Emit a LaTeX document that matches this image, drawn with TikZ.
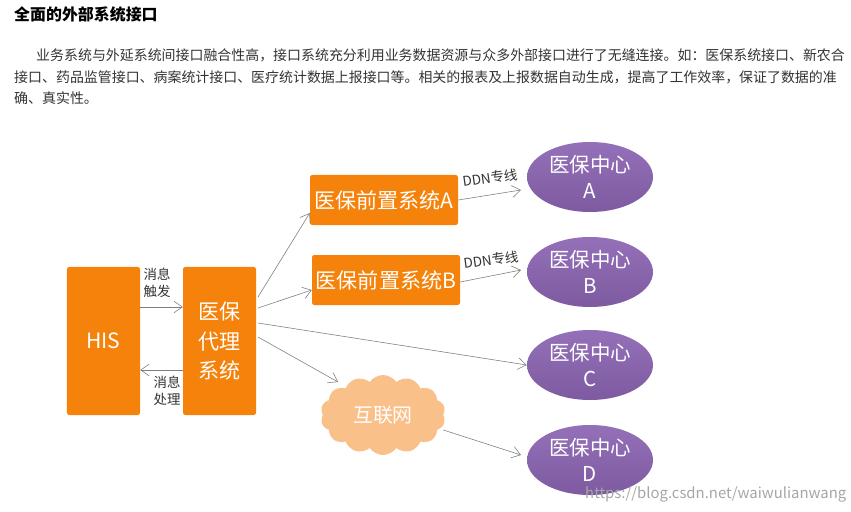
\documentclass[tikz,border=0pt]{standalone}
\usepackage{fontspec}
\setmainfont{Noto Sans CJK SC}
\usetikzlibrary{arrows.meta,shapes.symbols,shapes.geometric}
\definecolor{org}{HTML}{F5820A}
\definecolor{pur}{HTML}{7E5BA0}
\definecolor{purl}{HTML}{9370B8}
\definecolor{cloudc}{HTML}{F9C08A}
\definecolor{arr}{HTML}{7F7F7F}
\definecolor{txt}{HTML}{333333}
\tikzset{
  obox/.style={fill=org,rounded corners=2pt,text=white,font=\fontsize{18}{25}\selectfont,inner sep=0pt,align=center},
  cen/.style={ellipse,top color=purl,bottom color=pur,minimum width=3.78cm,minimum height=2.1cm,text=white,font=\fontsize{17.5}{22}\selectfont,align=center,inner sep=0pt},
  con/.style={draw=arr,line width=0.5pt,-{Straight Barb[length=2.5mm,width=3.5mm]}},
  small/.style={font=\fontsize{11.5}{14}\selectfont,text=txt,align=left,inner sep=0pt},
  para/.style={anchor=west,font=\fontsize{11.9}{14}\selectfont,text=txt,inner sep=0pt}
}
\begin{document}
\begin{tikzpicture}[x=0.03cm,y=-0.03cm]
\useasboundingbox (0,0) rectangle (851,512);
\node[anchor=west,font=\bfseries\fontsize{13.6}{16}\selectfont,inner sep=0pt] (title) at (14,14) {全面的外部系统接口};
\node[para] (p1) at (36,55) {业务系统与外延系统间接口融合性高，接口系统充分利用业务数据资源与众多外部接口进行了无缝连接。如：医保系统接口、新农合};
\node[para] (p2) at (14,77) {接口、药品监管接口、病案统计接口、医疗统计数据上报接口等。相关的报表及上报数据自动生成，提高了工作效率，保证了数据的准};
\node[para] (p3) at (14,98) {确、真实性。};

\node[obox,minimum width=2.19cm,minimum height=4.44cm] (his) at (103.5,341) {HIS};
\node[obox,minimum width=2.19cm,minimum height=4.44cm] (proxy) at (219.5,341) {医保\\代理\\系统};
\node[obox,minimum width=4.44cm,minimum height=1.5cm] (fa) at (384,200) {医保前置系统A};
\node[obox,minimum width=4.44cm,minimum height=1.5cm] (fb) at (386,280) {医保前置系统B};
\node[cen] (ca) at (590,177) {医保中心\\A};
\node[cen] (cb) at (590,272) {医保中心\\B};
\node[cen] (cc) at (590,365) {医保中心\\C};
\node[cen] (cd) at (590,460) {医保中心\\D};
\node[cloud,cloud puffs=14,cloud puff arc=110,aspect=1.6,fill=cloudc,minimum width=3.75cm,minimum height=2.4cm,text=white,font=\fontsize{17}{20}\selectfont,inner sep=0pt] (net) at (383,415) {互联网};

\draw[con] (his.east|-0,307) -- (proxy.west|-0,307);
\node[small] (l1) at (157,283) {消息\\触发};
\draw[con] (proxy.west|-0,370) -- (his.east|-0,370);
\node[small] (l2) at (167,391) {消息\\处理};

\coordinate (p1s) at (258,297);
\coordinate (p2s) at (258,308);
\coordinate (p3s) at (258,323);
\coordinate (p4s) at (258,337);
\draw[con] (p1s) -- (fa.south west|-0,213);
\draw[con] (p2s) -- (fb.west|-0,290);
\draw[con] (p3s) -- (cc.west);
\draw[con] (p4s) -- (338,382) coordinate (netin);
\draw[con] (net.east|-0,430) -- (521,455) coordinate (dd);
\draw[con] (fa.east|-0,200) -- (521,190) coordinate (aa);
\draw[con] (fb.east|-0,282) -- (521,270) coordinate (bb);
\node[small,rotate=8] (d1) at (490,178) {DDN专线};
\node[small,rotate=8] (d2) at (491,260) {DDN专线};
\node[anchor=west,font=\fontsize{12.7}{14}\selectfont,text=gray!70,inner sep=0pt] (wm) at (585,494) {https://blog.csdn.net/waiwulianwang};
\end{tikzpicture}
\end{document}
